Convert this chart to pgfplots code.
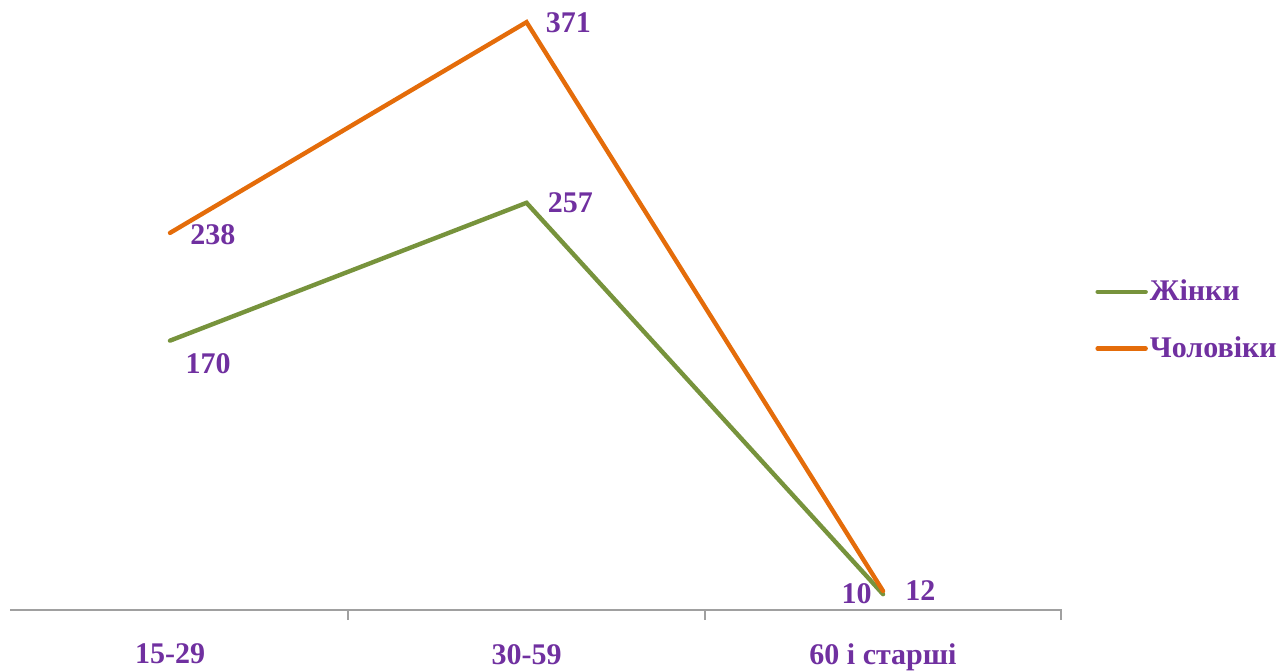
\documentclass[border=0pt]{standalone}
\usepackage{fontspec}
\setmainfont{Liberation Serif}
\usepackage{pgfplots}
\pgfplotsset{compat=1.18}
\definecolor{txt}{HTML}{7030A0}
\definecolor{grn}{HTML}{77933C}
\definecolor{org}{HTML}{E46C0A}
\definecolor{axg}{HTML}{A0A0A0}
\begin{document}
\begin{tikzpicture}
\path[use as bounding box] (-5pt,-30.5pt) rectangle (637pt,305pt);
\begin{axis}[
  at={(0,0)}, anchor=south west,
  scale only axis, width=526pt, height=305pt,
  xmin=-0.4488, xmax=2.502, ymin=0, ymax=385,
  axis y line=none, axis x line=bottom,
  axis line style={draw=axg, line width=1pt, -},
  xtick={0,1,2}, xticklabels={15-29,30-59,60 і старші},
  major tick length=0pt,
  extra x ticks={0.5,1.5,2.5}, extra x tick labels={},
  extra x tick style={major tick length=5pt, tick align=outside, tick style={draw=axg, line width=1pt}},
  xticklabel style={font=\bfseries\fontsize{15}{18}\selectfont, text=txt, yshift=-13.5pt},
  clip=false,
  legend style={draw=none, fill=none, at={(1.0314,0.475)}, anchor=west, inner sep=0pt,
    font=\bfseries\fontsize{15}{18}\selectfont, text=txt, row sep=14.5pt,
    nodes={inner sep=1pt}},
  legend cell align=left,
  legend image code/.code={\draw[#1] (0pt,0pt) -- (24pt,0pt);},
]
\addplot[grn, line width=2.2pt, line cap=round, line join=miter] coordinates {(0,170) (1,257) (2,10)};
\addlegendentry{Жінки}
\addplot[org, line width=2.2pt, line cap=round, line join=miter] coordinates {(0,238) (1,371) (2,12)};
\addlegendentry{Чоловіки}
\tikzset{lab/.style={font=\bfseries\fontsize{15}{18}\selectfont, text=txt, inner sep=0pt}}
\node[lab] at (axis cs:0,170) [xshift=19pt, yshift=-11.5pt] {170};
\node[lab, anchor=west] at (axis cs:0,238) [xshift=10pt, yshift=-1pt] {238};
\node[lab, anchor=west] at (axis cs:1,257) [xshift=10.5pt] {257};
\node[lab, anchor=west] at (axis cs:1,371) [xshift=9.5pt, yshift=-0.5pt] {371};
\node[lab, anchor=east] at (axis cs:2,10) [xshift=-5.5pt] {10};
\node[lab, anchor=west] at (axis cs:2,12) [xshift=11pt] {12};
\end{axis}
\end{tikzpicture}
\end{document}
